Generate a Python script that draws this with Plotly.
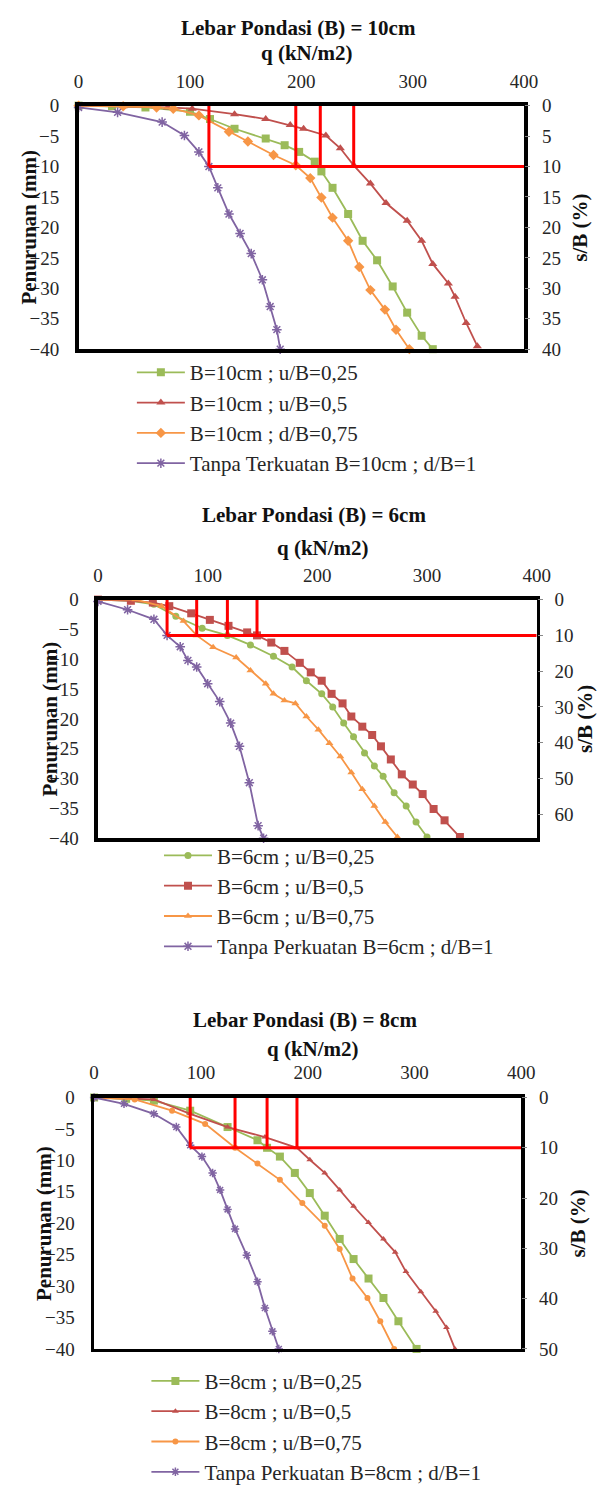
import plotly.graph_objects as go

W, H = 603, 1495

# ---------------- data: chart 1 (B = 10 cm) ----------------
c1_titles = ["B=10cm ; u/B=0,25", "B=10cm ; u/B=0,5", "B=10cm ; d/B=0,75", "Tanpa Terkuatan B=10cm ; d/B=1"]
c1_green_q = [0, 30, 60, 100, 118, 140, 168, 185, 198, 212, 218, 228, 242, 255, 268, 282, 295, 308, 318]
c1_green_s = [0, -0.1, -0.3, -1.0, -2.2, -3.8, -5.4, -6.5, -7.6, -9.2, -10.8, -13.5, -17.8, -22.2, -25.4, -29.7, -34.0, -37.8, -40.0]
c1_red_q = [0, 40, 80, 102, 140, 168, 190, 202, 222, 235, 247, 262, 276, 295, 308, 318, 332, 338, 348, 358]
c1_red_s = [0, -0.1, -0.3, -0.5, -1.4, -2.2, -3.2, -3.8, -4.9, -7.0, -9.8, -12.8, -16.0, -18.9, -22.2, -26.0, -29.2, -31.4, -35.7, -39.5]
c1_orange_q = [0, 40, 70, 85, 108, 135, 152, 175, 195, 208, 218, 228, 242, 252, 262, 275, 285, 297]
c1_orange_s = [0, -0.1, -0.3, -0.5, -1.6, -4.3, -5.9, -8.1, -9.8, -11.9, -15.1, -18.4, -22.2, -26.5, -30.3, -33.5, -36.8, -40.0]
c1_purple_q = [0, 35, 75, 95, 108, 117, 125, 135, 145, 155, 165, 172, 178, 181]
c1_purple_s = [-0.3, -1.1, -2.7, -4.9, -7.6, -10.0, -13.5, -17.8, -21.0, -24.3, -28.6, -33.0, -36.8, -40.0]
c1_ref_q = [117, 195, 217, 247]
c1_ref_s = -10
c1_sb_max = 40
c1_sb_ticks = [0, 5, 10, 15, 20, 25, 30, 35, 40]

# ---------------- data: chart 2 (B = 6 cm) ----------------
c2_titles = ["B=6cm ; u/B=0,25", "B=6cm ; u/B=0,5", "B=6cm ; u/B=0,75", "Tanpa Perkuatan B=6cm ; d/B=1"]
c2_green_q = [0, 30, 51, 71, 95, 118, 139, 160, 177, 190, 204, 214, 224, 233, 243, 252, 260, 270, 281, 290, 300]
c2_green_s = [0, -0.2, -0.8, -2.8, -4.8, -6.0, -7.6, -9.5, -11.3, -13.6, -15.8, -18.0, -20.7, -23.0, -25.7, -27.9, -29.6, -32.4, -34.6, -37.3, -39.8]
c2_red_q = [0, 30, 50, 65, 85, 102, 119, 136, 145, 158, 170, 184, 194, 204, 213, 223, 231, 241, 250, 258, 267, 277, 287, 296, 306, 316, 330]
c2_red_s = [0, -0.2, -0.5, -1.1, -2.3, -3.4, -4.4, -5.5, -6.0, -7.2, -8.6, -10.6, -12.2, -13.6, -15.8, -17.4, -19.6, -21.3, -22.7, -24.6, -26.8, -29.3, -31.0, -32.6, -35.1, -37.0, -39.8]
c2_orange_q = [0, 34, 58, 78, 90, 105, 126, 139, 153, 160, 170, 180, 190, 201, 211, 221, 231, 241, 252, 262, 273]
c2_orange_s = [0, 0, -1.1, -3.6, -6.0, -8.0, -9.7, -11.9, -14.1, -15.8, -16.9, -17.4, -19.6, -21.8, -24.1, -26.3, -29.0, -31.8, -34.6, -37.3, -39.8]
c2_purple_q = [0, 27, 51, 63, 75, 82, 90, 100, 111, 121, 129, 138, 146, 151]
c2_purple_s = [-0.3, -1.7, -3.3, -6.0, -7.9, -10.2, -11.3, -14.1, -17.1, -20.7, -24.6, -30.7, -37.9, -40.0]
c2_ref_q = [63, 90, 118, 145]
c2_ref_s = -6
c2_sb_max = 40 / 60 * 100
c2_sb_ticks = [0, 10, 20, 30, 40, 50, 60]

# ---------------- data: chart 3 (B = 8 cm) ----------------
c3_titles = ["B=8cm ; u/B=0,25", "B=8cm ; u/B=0,5", "B=8cm ; u/B=0,75", "Tanpa Perkuatan B=8cm ; d/B=1"]
c3_green_q = [0, 30, 56, 90, 125, 153, 162, 174, 188, 202, 216, 230, 243, 257, 271, 285, 302]
c3_green_s = [0, -0.2, -0.5, -2.1, -4.7, -6.8, -8.0, -9.4, -12.0, -15.2, -18.8, -22.5, -25.7, -28.8, -31.9, -35.6, -40.0]
c3_red_q = [0, 30, 56, 90, 125, 160, 190, 202, 216, 230, 243, 257, 271, 282, 292, 306, 320, 330, 338]
c3_red_s = [0, -0.1, -0.3, -2.6, -4.7, -6.3, -8.0, -9.9, -12.0, -14.7, -17.3, -19.9, -22.5, -24.6, -27.7, -30.9, -34.0, -36.6, -40.0]
c3_orange_q = [0, 38, 73, 104, 132, 153, 174, 195, 216, 230, 242, 256, 268, 281]
c3_orange_s = [0, -0.3, -2.1, -4.2, -8.0, -10.5, -13.1, -16.8, -20.4, -24.1, -28.8, -31.9, -35.6, -40.0]
c3_purple_q = [0, 28, 56, 77, 90, 101, 111, 118, 125, 132, 143, 153, 160, 167, 173]
c3_purple_s = [0, -1.0, -2.6, -4.7, -7.6, -9.4, -12.0, -14.7, -17.8, -20.9, -25.1, -29.3, -33.5, -37.2, -40.0]
c3_ref_q = [90, 132, 162, 190]
c3_ref_s = -8
c3_sb_max = 40 / 80 * 100
c3_sb_ticks = [0, 10, 20, 30, 40, 50]

chart_titles = ["Lebar Pondasi (B) = 10cm", "Lebar Pondasi (B) = 6cm", "Lebar Pondasi (B) = 8cm"]
x_ticks = [0, 100, 200, 300, 400]
y_ticks = [0, -5, -10, -15, -20, -25, -30, -35, -40]

# ---------------- styling ----------------
GREEN, RED, ORANGE, PURPLE = "#9BBB59", "#C0504D", "#F79646", "#8064A2"
SERIF = "Liberation Serif, Times New Roman, serif"
TXT = "#262626"

charts = [
    dict(titles=c1_titles,
         series=[(c1_green_q, c1_green_s, GREEN, "square", 8),
                 (c1_red_q, c1_red_s, RED, "triangle-up", 8),
                 (c1_orange_q, c1_orange_s, ORANGE, "diamond", 8),
                 (c1_purple_q, c1_purple_s, PURPLE, "asterisk-open", 8)],
         ref_q=c1_ref_q, ref_s=c1_ref_s, sb_max=c1_sb_max, sb_ticks=c1_sb_ticks,
         box=(76, 536, 97, 344), title_y=18, qtitle_y=44, ylab_x=25, sblab_x=594,
         leg=(131, 347)),
    dict(titles=c2_titles,
         series=[(c2_green_q, c2_green_s, GREEN, "circle", 7),
                 (c2_red_q, c2_red_s, RED, "square", 8),
                 (c2_orange_q, c2_orange_s, ORANGE, "triangle-up", 7),
                 (c2_purple_q, c2_purple_s, PURPLE, "asterisk-open", 8)],
         ref_q=c2_ref_q, ref_s=c2_ref_s, sb_max=c2_sb_max, sb_ticks=c2_sb_ticks,
         box=(96, 549, 598, 840), title_y=512, qtitle_y=546, ylab_x=46, sblab_x=599,
         leg=(159, 837)),
    dict(titles=c3_titles,
         series=[(c3_green_q, c3_green_s, GREEN, "square", 8),
                 (c3_red_q, c3_red_s, RED, "triangle-up", 6),
                 (c3_orange_q, c3_orange_s, ORANGE, "circle", 6),
                 (c3_purple_q, c3_purple_s, PURPLE, "asterisk-open", 7)],
         ref_q=c3_ref_q, ref_s=c3_ref_s, sb_max=c3_sb_max, sb_ticks=c3_sb_ticks,
         box=(92, 533, 1103, 1358), title_y=1024, qtitle_y=1054, ylab_x=40, sblab_x=592,
         leg=(146, 1370)),
]


def px(x):
    return x / W


def py(y):
    return 1 - y / H


fig = go.Figure()
layout = dict(width=W, height=H, margin=dict(l=0, r=0, t=0, b=0),
              paper_bgcolor="white", plot_bgcolor="white", showlegend=True,
              font=dict(family=SERIF, color=TXT, size=19))
annotations = []

for i, ch in enumerate(charts, start=1):
    xs = "" if i == 1 else str(i)
    yl = "" if i == 1 else str(2 * i - 1)
    yr = str(2 * i)
    leg = "legend" if i == 1 else "legend%d" % i
    x0, x1, y0, y1 = ch["box"]

    for (q, s, col, sym, size), name in zip(ch["series"], ch["titles"]):
        marker = dict(color=col, size=size, symbol=sym)
        if "open" in sym:
            marker["line"] = dict(color=col, width=1.5)
        fig.add_trace(go.Scatter(x=q, y=s, mode="lines+markers", name=name,
                                 line=dict(color=col, width=1.8), marker=marker,
                                 xaxis="x" + xs, yaxis="y" + yl, legend=leg,
                                 legendgroup=leg + name, cliponaxis=False,
                                 hoverinfo="skip"))

    # red reference box (s/B = 10 %)
    rx, ry = [], []
    for q in ch["ref_q"]:
        rx += [q, q, None]
        ry += [0, ch["ref_s"], None]
    rx += [ch["ref_q"][0], 400]
    ry += [ch["ref_s"], ch["ref_s"]]
    fig.add_trace(go.Scatter(x=rx, y=ry, mode="lines", line=dict(color="#FF0000", width=3),
                             xaxis="x" + xs, yaxis="y" + yl, showlegend=False,
                             hoverinfo="skip", cliponaxis=False))
    # invisible trace to activate right axis
    fig.add_trace(go.Scatter(x=[0], y=[0], mode="markers", marker=dict(opacity=0),
                             xaxis="x" + xs, yaxis="y" + yr, showlegend=False,
                             hoverinfo="skip"))

    layout["xaxis" + xs] = dict(domain=[px(x0), px(x1)], anchor="y" + yl, side="top",
                                range=[0, 400], tickvals=x_ticks, showgrid=False,
                                zeroline=False, showline=True, linecolor="black",
                                linewidth=3.5, mirror=True, ticks="outside", ticklen=7,
                                tickcolor="rgba(0,0,0,0)",
                                tickfont=dict(family=SERIF, size=19, color=TXT))
    layout["yaxis" + yl] = dict(domain=[py(y1), py(y0)], anchor="x" + xs,
                                range=[-40, 0], tickvals=y_ticks, showgrid=False,
                                zeroline=False, showline=True, linecolor="black",
                                linewidth=3.5, mirror=True, ticks="outside", ticklen=12,
                                tickcolor="rgba(0,0,0,0)",
                                tickfont=dict(family=SERIF, size=19, color=TXT))
    layout["yaxis" + yr] = dict(overlaying="y" + yl, anchor="x" + xs, side="right",
                                range=[ch["sb_max"], 0], tickvals=ch["sb_ticks"],
                                showgrid=False, zeroline=False, showline=False,
                                ticks="outside", ticklen=5, tickcolor="#888",
                                ticklabelstandoff=8,
                                tickfont=dict(family=SERIF, size=19, color=TXT))
    layout[leg] = dict(x=px(ch["leg"][0]), y=py(ch["leg"][1]), xanchor="left", yanchor="top",
                       bgcolor="rgba(0,0,0,0)", borderwidth=0, itemwidth=48,
                       tracegroupgap=0, font=dict(family=SERIF, size=21, color=TXT))

    cx = (x0 + x1) / 2
    common = dict(xref="paper", yref="paper", showarrow=False, xanchor="center", yanchor="middle")
    annotations += [
        dict(text="<b>%s</b>" % chart_titles[i - 1], x=px(cx - 3), y=py(ch["title_y"]),
             font=dict(family=SERIF, size=21, color="#111"), **common),
        dict(text="<b>q (kN/m2)</b>", x=px(cx + 6), y=py(ch["qtitle_y"]),
             font=dict(family=SERIF, size=21, color="#111"), **common),
        dict(text="<b>Penurunan (mm)</b>", x=px(ch["ylab_x"]), y=py((y0 + y1) / 2),
             textangle=-90, font=dict(family=SERIF, size=21, color="#111"), **common),
        dict(text="<b>s/B (%)</b>", x=px(ch["sblab_x"]), y=py((y0 + y1) / 2),
             textangle=-90, font=dict(family=SERIF, size=21, color="#111"), **common),
    ]

layout["annotations"] = annotations
fig.update_layout(**layout)
fig.write_html("out.html",
               config={"displayModeBar": False, "staticPlot": True},
               post_script="document.body.style.margin='0px';"
                           "document.body.style.overflow='hidden';")
